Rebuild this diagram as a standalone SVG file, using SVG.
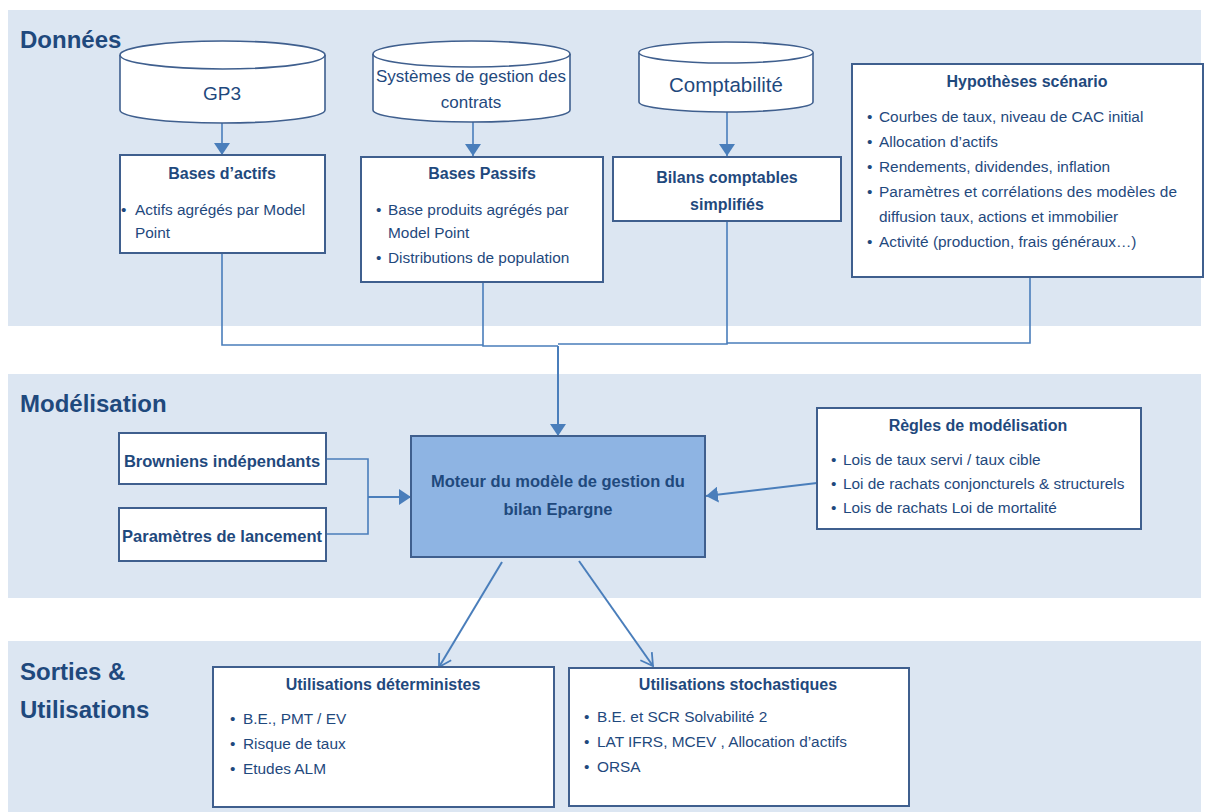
<svg xmlns="http://www.w3.org/2000/svg" width="1208" height="812" viewBox="0 0 1208 812">
<style>
.band{fill:#DCE6F2}
.sec{font-family:"Liberation Sans",Arial,sans-serif;font-weight:bold;font-size:24px;fill:#1F497D}
.box{fill:#fff;stroke:#3F5F8E;stroke-width:2}
.cyl{fill:#fff;stroke:#3F5F8E;stroke-width:1.6}
.core{fill:#8EB4E3;stroke:#3F5F8E;stroke-width:2}
.t{font-family:"Liberation Sans",Arial,sans-serif;font-size:15.4px;fill:#1F497D}
.b{font-family:"Liberation Sans",Arial,sans-serif;font-weight:bold;font-size:16px;fill:#1F497D}
.bb{font-family:"Liberation Sans",Arial,sans-serif;font-weight:bold;font-size:16.5px;fill:#1F497D}
.c{text-anchor:middle}
.ln{fill:none;stroke:#4A7EBB;stroke-width:1.6}
.ln2{fill:none;stroke:#4A7EBB;stroke-width:2}
</style>
<defs>
<marker id="tri" viewBox="0 0 12 16" refX="12" refY="8" markerWidth="12" markerHeight="16" markerUnits="userSpaceOnUse" orient="auto">
<path d="M0,0 L12,8 L0,16 Z" fill="#4A7EBB"/>
</marker>
<marker id="open" viewBox="0 0 14 16" refX="13" refY="8" markerWidth="14" markerHeight="16" markerUnits="userSpaceOnUse" orient="auto">
<path d="M1,1 L13,8 L1,15" fill="none" stroke="#4A7EBB" stroke-width="1.8"/>
</marker>
</defs>

<g id="bands">
<rect class="band" x="8" y="10" width="1193" height="316"/>
<rect class="band" x="8" y="374" width="1193" height="224"/>
<rect class="band" x="8" y="641" width="1193" height="171"/>
<text class="sec" x="20" y="48">Données</text>
<text class="sec" x="20" y="412">Modélisation</text>
<text class="sec" x="20" y="680">Sorties &amp;</text>
<text class="sec" x="20" y="718">Utilisations</text>
</g>

<g id="connectors">
<path class="ln" d="M222,253 V345 H483"/>
<path class="ln" d="M483,282 V346 H558"/>
<path class="ln" d="M727,221 V344 H558"/>
<path class="ln" d="M1030,277 V343 H727"/>
<path class="ln2" d="M558,346 V436" marker-end="url(#tri)"/>
<path class="ln" d="M222,123 V155" marker-end="url(#tri)"/>
<path class="ln" d="M473,122 V156" marker-end="url(#tri)"/>
<path class="ln" d="M727,112 V156" marker-end="url(#tri)"/>
<path class="ln" d="M326,459 H368 V534 H326"/>
<path class="ln2" d="M368,497 H411" marker-end="url(#tri)"/>
<path class="ln2" d="M817,483 L706,496" marker-end="url(#tri)"/>
<path class="ln2" d="M502,562 L439,667" marker-end="url(#open)"/>
<path class="ln2" d="M579,561 L653,666" marker-end="url(#open)"/>
</g>

<g id="gp3">
<path class="cyl" d="M120,55 A102.5,14 0 0,1 325,55 V110 A102.5,13 0 0,1 120,110 Z"/>
<path class="cyl" d="M120,55 A102.5,14 0 0,0 325,55"/>
<text class="t c" x="222" y="100" style="font-size:19px">GP3</text>
</g>

<g id="systemes">
<path class="cyl" d="M373,54 A98.5,13 0 0,1 570,54 V110 A98.5,12 0 0,1 373,110 Z"/>
<path class="cyl" d="M373,54 A98.5,13 0 0,0 570,54"/>
<text class="t c" x="471" y="82" style="font-size:17px">Systèmes de gestion des</text>
<text class="t c" x="471" y="108" style="font-size:17px">contrats</text>
</g>

<g id="comptabilite">
<path class="cyl" d="M639,52.5 A87,10.5 0 0,1 813,52.5 V102 A87,10 0 0,1 639,102 Z"/>
<path class="cyl" d="M639,52.5 A87,10.5 0 0,0 813,52.5"/>
<text class="t c" x="726" y="92" style="font-size:20.5px">Comptabilité</text>
</g>

<g id="bases-actifs">
<rect class="box" x="120" y="155" width="205" height="98"/>
<text class="b c" x="222" y="179">Bases d’actifs</text>
<text class="t" x="121" y="215">•</text>
<text class="t" x="135" y="215">Actifs agrégés par Model</text>
<text class="t" x="135" y="238">Point</text>
</g>

<g id="bases-passifs">
<rect class="box" x="361" y="157" width="242" height="125"/>
<text class="b c" x="482" y="179">Bases Passifs</text>
<text class="t" x="376" y="215">•</text>
<text class="t" x="388" y="215">Base produits agrégés par</text>
<text class="t" x="388" y="238">Model Point</text>
<text class="t" x="376" y="263">•</text>
<text class="t" x="388" y="263">Distributions de population</text>
</g>

<g id="bilans">
<rect class="box" x="613" y="157" width="228" height="64"/>
<text class="b c" x="727" y="183">Bilans comptables</text>
<text class="b c" x="727" y="210">simplifiés</text>
</g>

<g id="hypotheses">
<rect class="box" x="852" y="64" width="351" height="213"/>
<text class="b c" x="1027" y="87">Hypothèses scénario</text>
<text class="t" x="867" y="122">•</text>
<text class="t" x="879" y="122">Courbes de taux, niveau de CAC initial</text>
<text class="t" x="867" y="147">•</text>
<text class="t" x="879" y="147">Allocation d’actifs</text>
<text class="t" x="867" y="172">•</text>
<text class="t" x="879" y="172">Rendements, dividendes, inflation</text>
<text class="t" x="867" y="197">•</text>
<text class="t" x="879" y="197" textLength="298">Paramètres et corrélations des modèles de</text>
<text class="t" x="879" y="222">diffusion taux, actions et immobilier</text>
<text class="t" x="867" y="247">•</text>
<text class="t" x="879" y="247">Activité (production, frais généraux…)</text>
</g>

<g id="browniens">
<rect class="box" x="119" y="433" width="207" height="51"/>
<text class="bb c" x="222" y="467">Browniens indépendants</text>
</g>

<g id="parametres">
<rect class="box" x="119" y="508" width="207" height="53"/>
<text class="bb c" x="222" y="542">Paramètres de lancement</text>
</g>

<g id="moteur">
<rect class="core" x="411" y="436" width="294" height="121"/>
<text class="bb c" x="558" y="487">Moteur du modèle de gestion du</text>
<text class="bb c" x="558" y="515">bilan Epargne</text>
</g>

<g id="regles">
<rect class="box" x="817" y="408" width="324" height="121"/>
<text class="b c" x="978" y="431">Règles de modélisation</text>
<text class="t" x="831" y="465">•</text>
<text class="t" x="843" y="465">Lois de taux servi / taux cible</text>
<text class="t" x="831" y="489">•</text>
<text class="t" x="843" y="489">Loi de rachats conjoncturels &amp; structurels</text>
<text class="t" x="831" y="513">•</text>
<text class="t" x="843" y="513">Lois de rachats Loi de mortalité</text>
</g>

<g id="util-det">
<rect class="box" x="213" y="667" width="341" height="140"/>
<text class="b c" x="383" y="690">Utilisations déterministes</text>
<text class="t" x="230" y="724">•</text>
<text class="t" x="243" y="724">B.E., PMT / EV</text>
<text class="t" x="230" y="749">•</text>
<text class="t" x="243" y="749">Risque de taux</text>
<text class="t" x="230" y="774">•</text>
<text class="t" x="243" y="774">Etudes ALM</text>
</g>

<g id="util-stoch">
<rect class="box" x="569" y="668" width="340" height="138"/>
<text class="b c" x="738" y="690">Utilisations stochastiques</text>
<text class="t" x="584" y="722">•</text>
<text class="t" x="597" y="722">B.E. et SCR Solvabilité 2</text>
<text class="t" x="584" y="747">•</text>
<text class="t" x="597" y="747">LAT IFRS, MCEV , Allocation d’actifs</text>
<text class="t" x="584" y="772">•</text>
<text class="t" x="597" y="772">ORSA</text>
</g>
</svg>
